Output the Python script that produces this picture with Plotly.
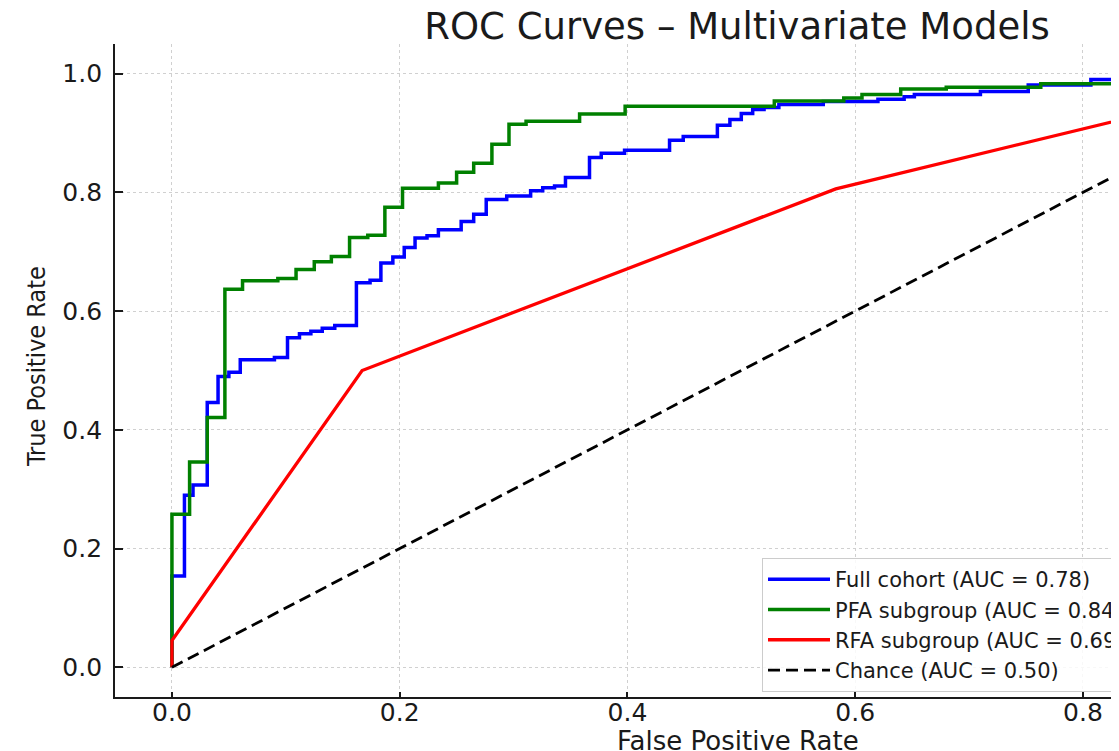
import plotly.graph_objects as go

# ---- data ----
full_fpr = [0, 0, 0.011, 0.0185, 0.031, 0.0405, 0.050, 0.060, 0.090, 0.1015, 0.112, 0.122, 0.132,
            0.143, 0.162, 0.174, 0.1835, 0.194, 0.204, 0.2135, 0.224, 0.234, 0.254, 0.265, 0.276,
            0.294, 0.315, 0.3256, 0.336, 0.3456, 0.3667, 0.377, 0.3975, 0.437, 0.449, 0.479, 0.490,
            0.500, 0.510, 0.520, 0.533, 0.572, 0.620, 0.643, 0.652, 0.710, 0.752, 0.807, 0.880, 1.0]
full_tpr = [0, 0.154, 0.290, 0.307, 0.446, 0.490, 0.497, 0.518, 0.522, 0.555, 0.562, 0.566, 0.571,
            0.576, 0.648, 0.652, 0.681, 0.691, 0.707, 0.723, 0.727, 0.737, 0.751, 0.763, 0.788,
            0.794, 0.803, 0.808, 0.811, 0.825, 0.859, 0.866, 0.871, 0.888, 0.894, 0.913, 0.923,
            0.933, 0.9395, 0.943, 0.948, 0.953, 0.957, 0.961, 0.965, 0.970, 0.981, 0.990, 1.0, 1.0]

pfa_fpr = [0, 0, 0.0155, 0.031, 0.0465, 0.062, 0.093, 0.109, 0.125, 0.140, 0.156, 0.172, 0.187,
           0.2025, 0.234, 0.250, 0.265, 0.281, 0.296, 0.311, 0.358, 0.398, 0.529, 0.590, 0.606,
           0.640, 0.680, 0.763, 0.860, 1.0]
pfa_tpr = [0, 0.258, 0.346, 0.421, 0.637, 0.651, 0.655, 0.670, 0.683, 0.692, 0.724, 0.728, 0.775,
           0.807, 0.816, 0.834, 0.849, 0.881, 0.915, 0.920, 0.932, 0.945, 0.954, 0.959, 0.965,
           0.974, 0.977, 0.983, 1.0, 1.0]

rfa_fpr = [0, 0, 0.167, 0.583, 1.0]
rfa_tpr = [0, 0.045, 0.500, 0.806, 1.0]

chance_fpr = [0, 1]
chance_tpr = [0, 1]

series_names = ["Full cohort (AUC = 0.78)", "PFA subgroup (AUC = 0.84)",
                "RFA subgroup (AUC = 0.69)", "Chance (AUC = 0.50)"]

tick_vals_x = [0.0, 0.2, 0.4, 0.6, 0.8]
tick_text_x = ["0.0", "0.2", "0.4", "0.6", "0.8"]
tick_vals_y = [0.0, 0.2, 0.4, 0.6, 0.8, 1.0]
tick_text_y = ["0.0", "0.2", "0.4", "0.6", "0.8", "1.0"]

FONT = "DejaVu Sans"
OFF = 8  # page body margin of the html page

fig = go.Figure()
fig.add_trace(go.Scatter(x=full_fpr, y=full_tpr, mode="lines", name=series_names[0],
                         line=dict(color="#0000ff", width=3.5, shape="hv")))
fig.add_trace(go.Scatter(x=pfa_fpr, y=pfa_tpr, mode="lines", name=series_names[1],
                         line=dict(color="#008000", width=3.5, shape="hv")))
fig.add_trace(go.Scatter(x=rfa_fpr, y=rfa_tpr, mode="lines", name=series_names[2],
                         line=dict(color="#ff0000", width=3.3)))
fig.add_trace(go.Scatter(x=chance_fpr, y=chance_tpr, mode="lines", name=series_names[3],
                         line=dict(color="black", width=2.8, dash="12px,6px")))

axis_common = dict(
    showline=True, linecolor="#1a1a1a", linewidth=1.8, mirror=False,
    ticks="inside", tickcolor="#1a1a1a", tickwidth=1.5,
    showgrid=True, gridcolor="#d0d0d0", griddash="dot", gridwidth=1,
    zeroline=False, tickfont=dict(family=FONT, size=25, color="#1a1a1a"),
)

W, H = 1119 - OFF, 751 - OFF
plot_l, plot_t, plot_w, plot_h = 115, 44, 1004, 653

fig.update_layout(
    width=W, height=H,
    margin=dict(l=plot_l - OFF, r=W - (plot_l - OFF) - plot_w, t=plot_t - OFF,
                b=H - (plot_t - OFF) - plot_h, autoexpand=False),
    paper_bgcolor="white", plot_bgcolor="white",
    font=dict(family=FONT, color="#1a1a1a"),
    title=dict(text="ROC Curves – Multivariate Models", x=(737 - OFF) / W, xref="container",
               xanchor="center", y=1 - (26 - OFF) / H, yref="container", yanchor="middle",
               font=dict(family=FONT, size=37, color="#1a1a1a")),
    xaxis=dict(range=[-0.05, 0.8317], tickvals=tick_vals_x, ticktext=tick_text_x,
               ticklen=5, ticklabelstandoff=-8, **axis_common),
    yaxis=dict(range=[-0.05, 1.05], tickvals=tick_vals_y, ticktext=tick_text_y,
               ticklen=8, ticklabelstandoff=6, **axis_common),
    legend=dict(x=(762 - 115) / plot_w, y=(697 - 558) / plot_h, xanchor="left", yanchor="top",
                bordercolor="#cccccc", borderwidth=1, bgcolor="rgba(255,255,255,0.85)",
                font=dict(family=FONT, size=21, color="#1a1a1a"), itemwidth=62,
                tracegroupgap=0),
    showlegend=True,
    annotations=[
        dict(text="False Positive Rate", xref="paper", yref="paper",
             x=(737.5 - 115) / plot_w, y=(697 - 741) / plot_h, xanchor="center", yanchor="middle",
             showarrow=False, font=dict(family=FONT, size=26, color="#1a1a1a")),
        dict(text="True Positive Rate", xref="paper", yref="paper",
             x=(36 - 115) / plot_w, y=(697 - 367) / plot_h, xanchor="center", yanchor="middle",
             textangle=-90, showarrow=False,
             font=dict(family="Liberation Sans Narrow, DejaVu Sans Condensed, DejaVu Sans",
                       size=25, color="#1a1a1a")),
    ],
)

fig.write_html("out.html")
